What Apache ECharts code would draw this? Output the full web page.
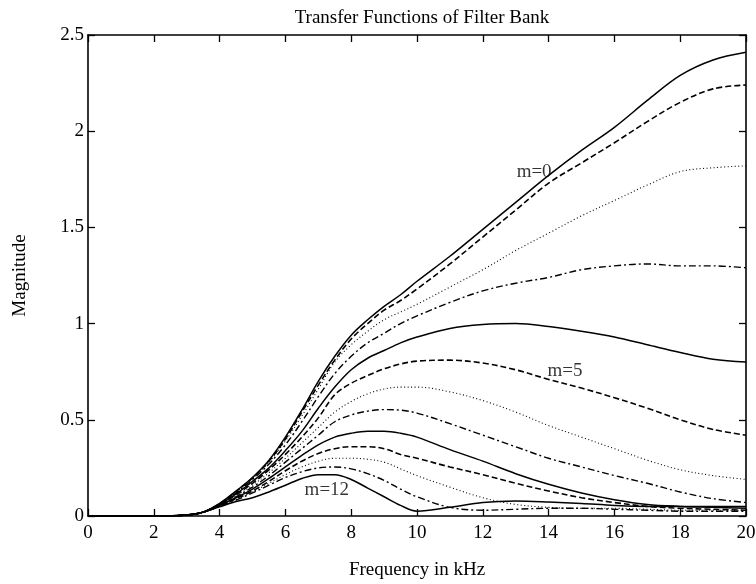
<!DOCTYPE html>
<html>
<head>
<meta charset="utf-8">
<script src="https://cdn.jsdelivr.net/npm/echarts@6/dist/echarts.min.js"></script>
<style>
  html, body { margin: 0; padding: 0; background: #fff; }
  #chart { width: 756px; height: 584px; }
</style>
</head>
<body>
<div id="chart"></div>
<script>
// frequency samples (kHz)
const freq = [0, 1, 2, 3, 3.5, 4, 4.5, 5, 5.5, 6, 6.5, 7, 7.5, 8, 8.5, 9, 9.5, 10, 11, 12, 13, 14, 15, 16, 17, 18, 19, 20];

// magnitude of each filter m = 0 .. 12
const m0  = [0, 0, 0, 0.005, 0.02, 0.065, 0.13, 0.2, 0.29, 0.41, 0.55, 0.7, 0.83, 0.94, 1.02, 1.09, 1.15, 1.22, 1.35, 1.49, 1.63, 1.77, 1.9, 2.02, 2.16, 2.29, 2.37, 2.41];
const m1  = [0, 0, 0, 0.005, 0.02, 0.064, 0.128, 0.198, 0.285, 0.4, 0.54, 0.68, 0.81, 0.92, 1.0, 1.07, 1.12, 1.18, 1.31, 1.45, 1.59, 1.73, 1.835, 1.94, 2.05, 2.15, 2.22, 2.24];
const m2  = [0, 0, 0, 0.005, 0.02, 0.063, 0.125, 0.195, 0.28, 0.39, 0.52, 0.66, 0.8, 0.89, 0.96, 1.02, 1.06, 1.1, 1.19, 1.28, 1.38, 1.47, 1.56, 1.64, 1.72, 1.79, 1.81, 1.82];
const m3  = [0, 0, 0, 0.005, 0.02, 0.062, 0.12, 0.19, 0.27, 0.37, 0.49, 0.62, 0.74, 0.83, 0.9, 0.95, 1.0, 1.04, 1.11, 1.17, 1.21, 1.24, 1.28, 1.3, 1.31, 1.3, 1.3, 1.29];
const m4  = [0, 0, 0, 0.005, 0.02, 0.06, 0.115, 0.18, 0.25, 0.34, 0.44, 0.56, 0.67, 0.76, 0.82, 0.86, 0.9, 0.93, 0.975, 0.995, 1.0, 0.985, 0.96, 0.93, 0.89, 0.85, 0.815, 0.8];
const m5  = [0, 0, 0, 0.005, 0.02, 0.06, 0.11, 0.17, 0.24, 0.32, 0.41, 0.51, 0.63, 0.69, 0.73, 0.765, 0.79, 0.805, 0.81, 0.795, 0.76, 0.71, 0.665, 0.615, 0.56, 0.5, 0.45, 0.42];
const m6  = [0, 0, 0, 0.005, 0.02, 0.058, 0.105, 0.16, 0.225, 0.3, 0.38, 0.46, 0.54, 0.595, 0.635, 0.66, 0.67, 0.67, 0.645, 0.6, 0.54, 0.47, 0.41, 0.35, 0.29, 0.24, 0.21, 0.19];
const m7  = [0, 0, 0, 0.005, 0.02, 0.056, 0.1, 0.15, 0.21, 0.28, 0.35, 0.42, 0.49, 0.525, 0.545, 0.553, 0.55, 0.535, 0.48, 0.42, 0.36, 0.3, 0.255, 0.21, 0.17, 0.125, 0.09, 0.07];
const m8  = [0, 0, 0, 0.005, 0.02, 0.055, 0.095, 0.14, 0.195, 0.255, 0.315, 0.37, 0.41, 0.43, 0.44, 0.44, 0.43, 0.41, 0.345, 0.285, 0.22, 0.165, 0.12, 0.085, 0.06, 0.05, 0.045, 0.04];
const m9  = [0, 0, 0, 0.005, 0.02, 0.054, 0.09, 0.13, 0.18, 0.235, 0.285, 0.325, 0.35, 0.36, 0.36, 0.35, 0.32, 0.3, 0.255, 0.215, 0.17, 0.13, 0.095, 0.07, 0.05, 0.04, 0.035, 0.03];
const m10 = [0, 0, 0, 0.005, 0.02, 0.052, 0.085, 0.125, 0.17, 0.215, 0.255, 0.285, 0.3, 0.3, 0.295, 0.28, 0.245, 0.21, 0.15, 0.095, 0.06, 0.045, 0.04, 0.04, 0.035, 0.03, 0.03, 0.03];
const m11 = [0, 0, 0, 0.005, 0.02, 0.05, 0.082, 0.12, 0.16, 0.2, 0.23, 0.25, 0.255, 0.245, 0.22, 0.185, 0.14, 0.1, 0.045, 0.03, 0.035, 0.04, 0.04, 0.035, 0.03, 0.025, 0.025, 0.025];
const m12 = [0, 0, 0, 0.005, 0.02, 0.048, 0.075, 0.095, 0.125, 0.16, 0.195, 0.215, 0.215, 0.19, 0.145, 0.1, 0.055, 0.025, 0.045, 0.07, 0.078, 0.073, 0.065, 0.055, 0.05, 0.05, 0.05, 0.05];

const curves = [m0, m1, m2, m3, m4, m5, m6, m7, m8, m9, m10, m11, m12];

// curve labels: [text, freq, magnitude]
const labels = [['m=0', 13.56, 1.79], ['m=5', 14.5, 0.755], ['m=12', 7.26, 0.135]];

const FONT = '"Liberation Serif", "Times New Roman", serif';
const styles = [
  { type: 'solid', width: 1.5 },
  { type: [6, 3], width: 1.6 },
  { type: [1, 2.5], width: 1.1 },
  { type: [7, 3, 2, 3], width: 1.4 }
];

const series = curves.map((vals, m) => ({
  name: 'm=' + m,
  type: 'line',
  xAxisIndex: 0,
  yAxisIndex: 0,
  data: freq.map((f, i) => [f, vals[i]]),
  showSymbol: false,
  smooth: 0.35,
  silent: true,
  z: 3,
  lineStyle: { color: '#000', width: styles[m % 4].width, type: styles[m % 4].type }
}));

series.push({
  type: 'scatter',
  symbolSize: 0,
  silent: true,
  data: labels.map(l => ({ value: [l[1], l[2]], name: l[0] })),
  label: {
    show: true,
    position: 'inside',
    formatter: p => p.name,
    fontFamily: FONT,
    fontSize: 19,
    color: '#000'
  },
  z: 5
});

const axisLine = { show: true, onZero: false, lineStyle: { color: '#000', width: 1.6 } };
const tick = { show: true, inside: true, length: 7, lineStyle: { color: '#000', width: 1.3 } };
const tickLabel = { fontFamily: FONT, fontSize: 19, color: '#000' };

const chart = echarts.init(document.getElementById('chart'), null, { renderer: 'canvas' });
chart.setOption({
  backgroundColor: '#fff',
  animation: false,
  title: {
    text: 'Transfer Functions of Filter Bank',
    left: 417,
    top: 4,
    textAlign: 'center',
    textStyle: { fontFamily: FONT, fontSize: 19, fontWeight: 'normal', color: '#000' }
  },
  grid: { left: 88, right: 10, top: 35, bottom: 68, containLabel: false, outerBoundsMode: 'none' },
  xAxis: [
    {
      type: 'value', min: 0, max: 20, interval: 2,
      name: 'Frequency in kHz', nameLocation: 'middle', nameGap: 45,
      nameTextStyle: { fontFamily: FONT, fontSize: 19, color: '#000' },
      axisLine, axisTick: tick, splitLine: { show: false },
      axisLabel: Object.assign({ margin: 8 }, tickLabel)
    },
    {
      type: 'value', min: 0, max: 20, interval: 2, position: 'top',
      axisLine, axisTick: tick, splitLine: { show: false }, axisLabel: { show: false }
    }
  ],
  yAxis: [
    {
      type: 'value', min: 0, max: 2.5, interval: 0.5,
      name: 'Magnitude', nameLocation: 'middle', nameGap: 58, nameRotate: 90,
      nameTextStyle: { fontFamily: FONT, fontSize: 19, color: '#000' },
      axisLine, axisTick: tick, splitLine: { show: false },
      axisLabel: Object.assign({ margin: 4 }, tickLabel)
    },
    {
      type: 'value', min: 0, max: 2.5, interval: 0.5, position: 'right',
      axisLine, axisTick: tick, splitLine: { show: false }, axisLabel: { show: false }
    }
  ],
  series
});
</script>
</body>
</html>
